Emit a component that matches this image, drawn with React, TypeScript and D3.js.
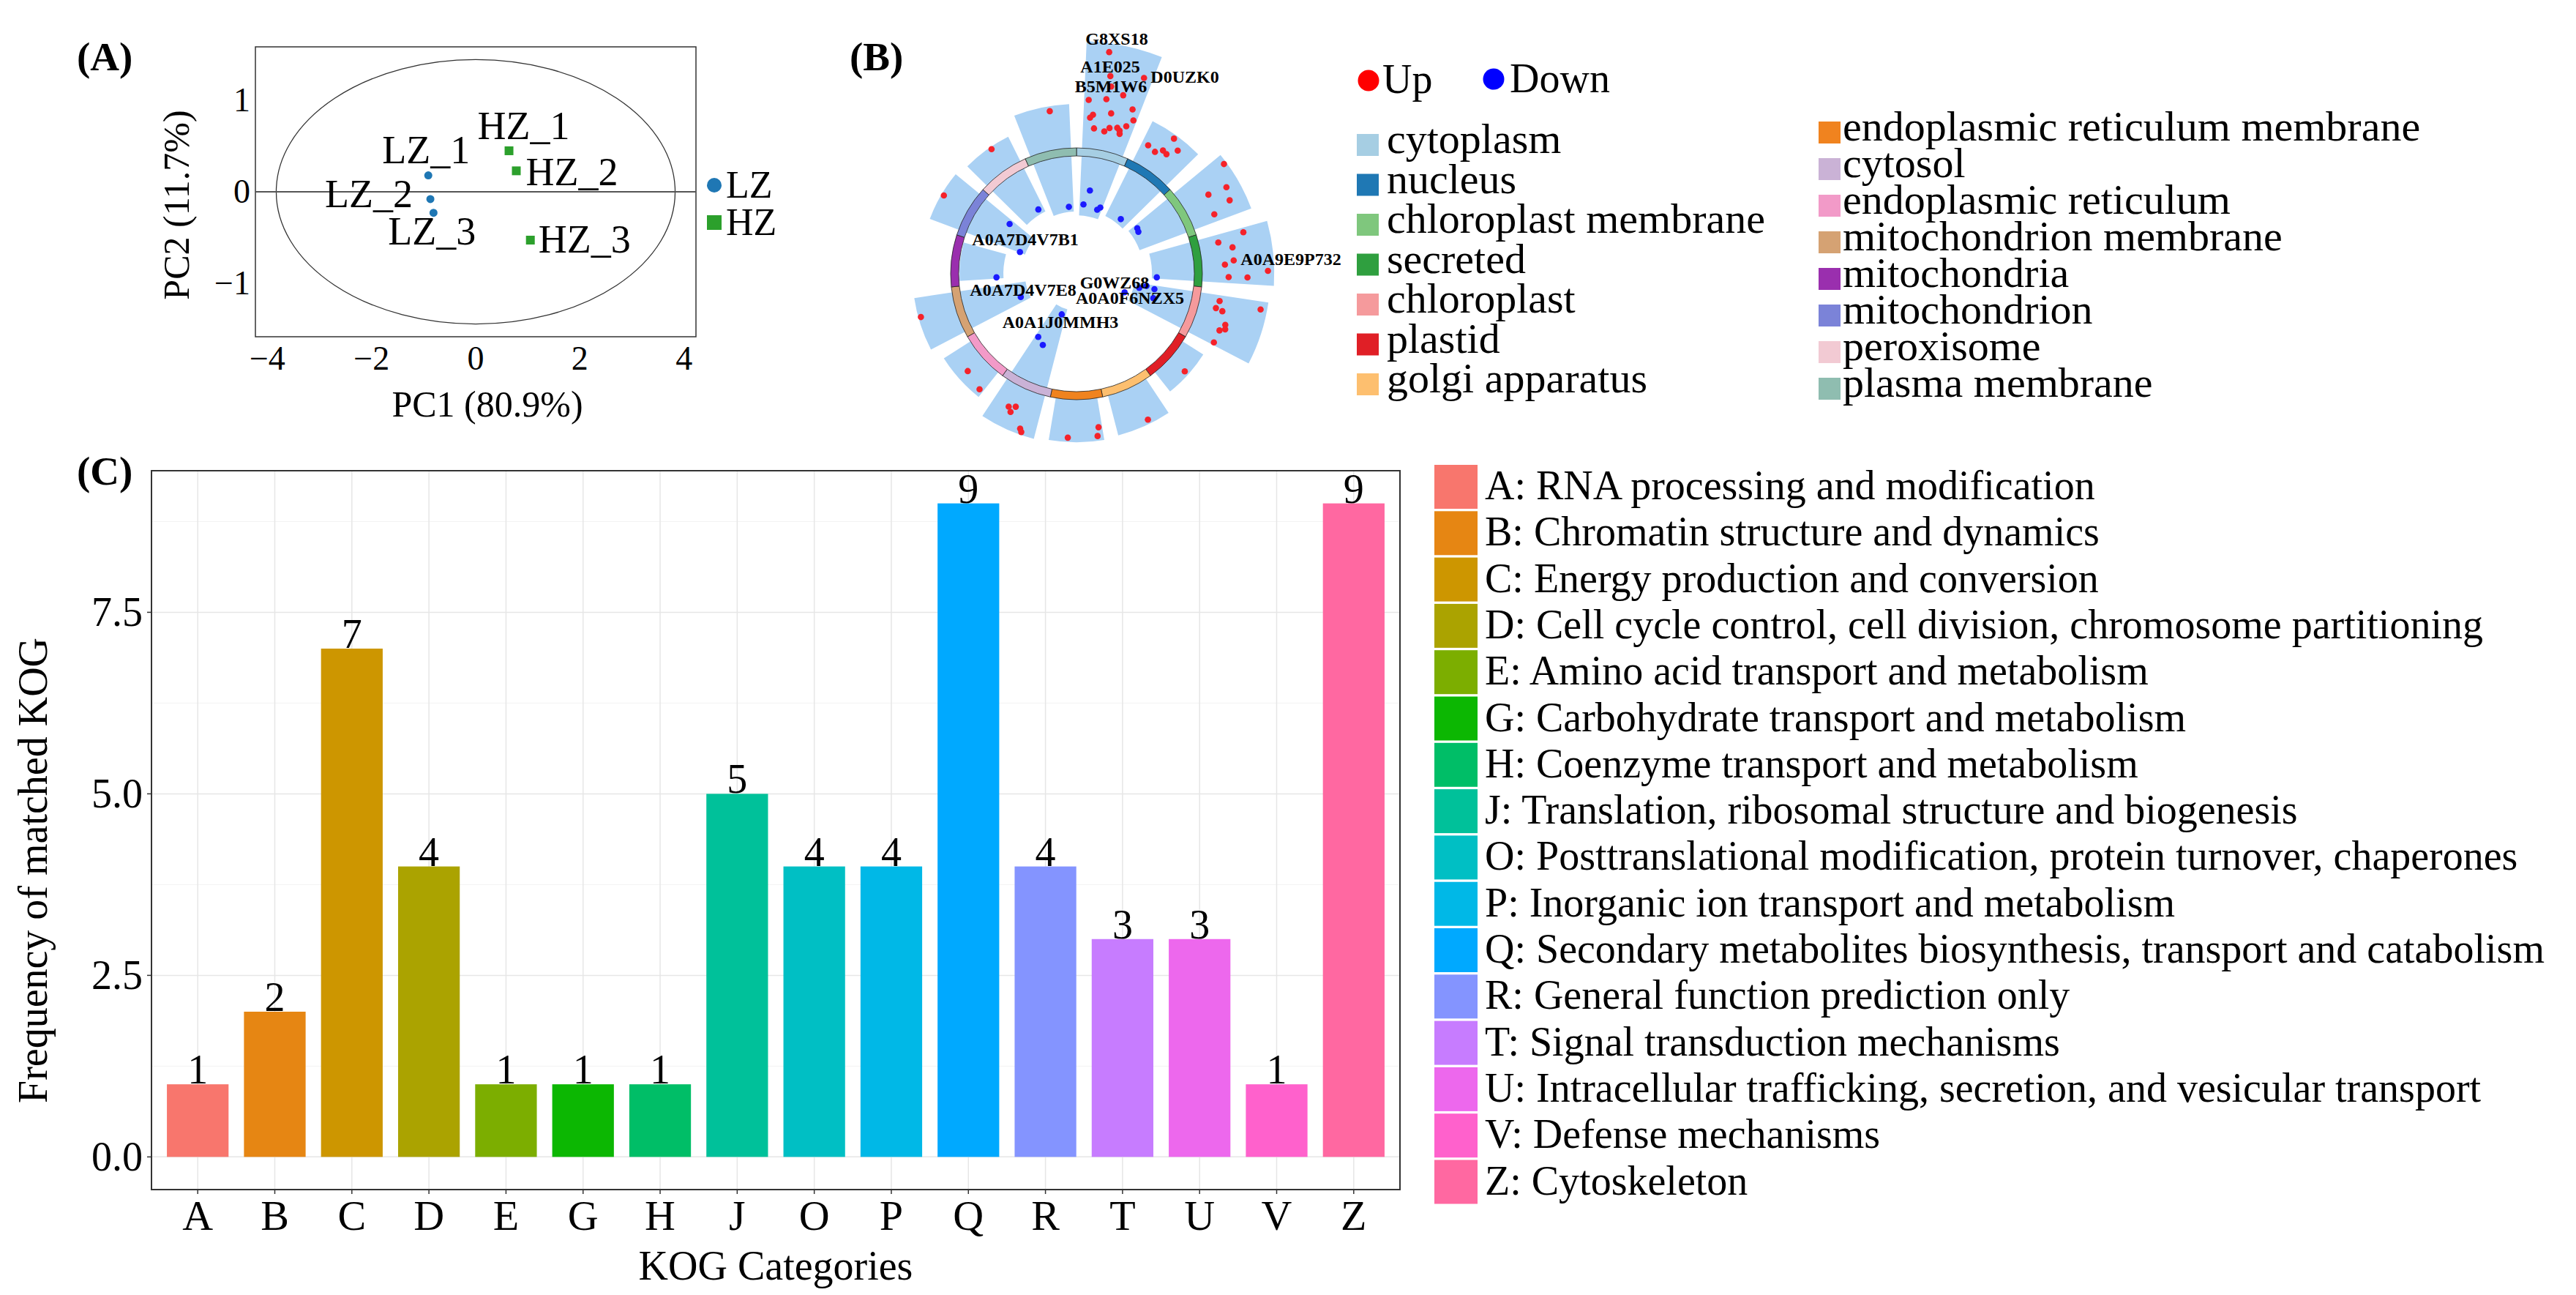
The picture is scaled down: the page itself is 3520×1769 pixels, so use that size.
import * as React from 'react';
import * as d3 from 'd3';

const W = 3520;
const H = 1769;
const FONT = '"Liberation Serif", "Times New Roman", serif';

/* ---------- (A) PCA ---------- */
const sampleNames = ['LZ_1', 'LZ_2', 'LZ_3', 'HZ_1', 'HZ_2', 'HZ_3'];
const sampleGroup = ['LZ', 'LZ', 'LZ', 'HZ', 'HZ', 'HZ'];
const pc1 = [-0.91, -0.87, -0.81, 0.64, 0.78, 1.05];
const pc2 = [0.18, -0.08, -0.23, 0.45, 0.23, -0.53];
const pcaGroups = ['LZ', 'HZ'];
const pcaGroupColors = ['#1f77b4', '#2ca02c'];
const pc1Ticks = [-4, -2, 0, 2, 4];
const pc2Ticks = [-1, 0, 1];
const ellipseRadii = [3.83, 1.45];

/* ---------- (B) subcellular location circle ---------- */
const locations = [
    'cytoplasm', 'nucleus', 'chloroplast membrane', 'secreted', 'chloroplast', 'plastid', 'golgi apparatus',
    'endoplasmic reticulum membrane', 'cytosol', 'endoplasmic reticulum', 'mitochondrion membrane',
    'mitochondria', 'mitochondrion', 'peroxisome', 'plasma membrane',
];
const locationColors = [
    '#a6cee3', '#1f78b4', '#7fc77d', '#2f9f3f', '#f59a9c', '#e01f26', '#fdbf6f',
    '#f0831f', '#cab2d6', '#f29ac8', '#d5a273', '#9a2fae', '#7b83d8', '#f2cad3', '#8fbdb0',
];
// wedge extent per location (log2 fold-change units, 0 = ring)
const wedgeInner = [-2.9, -2.64, -2.52, -2.17, -2.9, -0.2, -0.2, -0.2, -3.84, -0.2, -3.2, -2.27, -3.05, -2.42, -2.74];
const wedgeOuter = [4.6, 1.92, 2.61, 3.09, 2.93, 1.05, 1.76, 1.83, 1.92, 1.35, 1.64, -0.38, 1.32, 1.17, 1.89];
// [position inside the sector, log2FC]
const upDots = [
    [[0.31, 4.22], [0.38, 3.21], [0.87, 3.49], [0.42, 2.77], [0.64, 2.52], [0.08, 2.08], [0.38, 2.2], [0.86, 2.05],
     [0.51, 1.64], [0.18, 1.46], [0.13, 1.32], [0.94, 1.62], [0.23, 0.88], [0.54, 1.01], [0.45, 0.82], [0.69, 1.1],
     [0.75, 1.01], [0.77, 0.88], [0.85, 1.28]],
    [[0.14, 0.91], [0.33, 0.82], [0.45, 1.06], [0.55, 1.02], [0.49, 1.75], [0.68, 1.44]],
    [[0.15, 2.49], [0.5, 2.03], [0.45, 1.2], [0.73, 1.89], [0.85, 1.04]],
    [[0.08, 1.98], [0.16, 0.83], [0.31, 1.39], [0.63, 0.98], [0.56, 1.37], [0.88, 1.13], [0.88, 1.94], [0.77, 2.82]],
    [[0.12, 0.85], [0.28, 0.76], [0.31, 1.06], [0.13, 2.65], [0.55, 1.35], [0.69, 1.2], [0.63, 1.41], [0.95, 1.19]],
    [[0.5, 0.85]],
    [[0.39, 1.57]],
    [[0.07, 1.25], [0.11, 1.62], [0.66, 1.64]],
    [[0.66, 1.0], [0.53, 0.87], [0.58, 1.17], [0.29, 1.67], [0.25, 1.79]],
    [[0.51, 0.86], [0.08, 1.07]],
    [[0.63, 1.53]],
    [],
    [[0.53, 1.21]],
    [[0.59, 1.07]],
    [[0.64, 1.67]],
];
const downDots = [
    [[0.35, -1.79], [0.17, -2.42], [0.81, -2.52], [0.91, -2.39]],
    [[0.66, -2.39]],
    [[0.14, -2.15], [0.28, -2.2]],
    [[0.95, -1.96]],
    [[0.22, -2.65], [0.07, -2.36], [0.14, -2.0], [0.48, -1.95], [0.66, -3.2]],
    [],
    [],
    [],
    [[0.88, -2.24], [0.57, -2.03], [0.29, -3.56]],
    [],
    [[0.26, -2.82]],
    [[0.05, -1.97]],
    [[0.85, -1.83], [0.03, -2.81]],
    [[0.78, -2.2]],
    [[0.79, -2.52]],
];
const proteinLabels = [
    'G8XS18', 'A1E025', 'B5M1W6', 'D0UZK0', 'A0A7D4V7B1', 'A0A9E9P732',
    'G0WZ68', 'A0A7D4V7E8', 'A0A0F6NZX5', 'A0A1J0MMH3',
];

/* ---------- (C) KOG ---------- */
const kogCodes = ['A', 'B', 'C', 'D', 'E', 'G', 'H', 'J', 'O', 'P', 'Q', 'R', 'T', 'U', 'V', 'Z'];
const kogCounts = [1, 2, 7, 4, 1, 1, 1, 5, 4, 4, 9, 4, 3, 3, 1, 9];
const kogNames = [
    'A: RNA processing and modification',
    'B: Chromatin structure and dynamics',
    'C: Energy production and conversion',
    'D: Cell cycle control, cell division, chromosome partitioning',
    'E: Amino acid transport and metabolism',
    'G: Carbohydrate transport and metabolism',
    'H: Coenzyme transport and metabolism',
    'J: Translation, ribosomal structure and biogenesis',
    'O: Posttranslational modification, protein turnover, chaperones',
    'P: Inorganic ion transport and metabolism',
    'Q: Secondary metabolites biosynthesis, transport and catabolism',
    'R: General function prediction only',
    'T: Signal transduction mechanisms',
    'U: Intracellular trafficking, secretion, and vesicular transport',
    'V: Defense mechanisms',
    'Z: Cytoskeleton',
];
const kogColors = [
    '#F8766D', '#E68613', '#CD9600', '#ABA300', '#7CAE00', '#0CB702', '#00BE67', '#00C19A',
    '#00BFC4', '#00B8E7', '#00A9FF', '#8494FF', '#C77CFF', '#ED68ED', '#FF61CC', '#FF68A1',
];
const kogMajorTicks = [0, 2.5, 5, 7.5];
const kogMinorTicks = [1.25, 3.75, 6.25, 8.75];

/* layout */
const A = { left: 349, right: 951, top: 64, bottom: 460 };
const B = { cx: 1471, cy: 374, ringIn: 161, ringOut: 172 };
const C = { left: 207, right: 1913, top: 643, bottom: 1625 };

// label placement (px from point / circle centre)
const pcaLabelOffset = [[-3, -17], [-84, 11], [-2, 43], [20, -16], [76, 20], [74, 17]];
const proteinLabelOffset = [
    [55, -313], [46, -275], [47, -248], [148, -261], [-70, -39],
    [293, -12], [52, 20], [-73, 30], [73, 41], [-22, 74],
];

const PanelA = () => {
    const x = d3.scaleLinear().domain([-4.23, 4.23]).range([A.left, A.right]);
    const y = d3.scaleLinear().domain([-1.59, 1.59]).range([A.bottom, A.top]);
    const color = d3.scaleOrdinal<string, string>().domain(pcaGroups).range(pcaGroupColors);
    const fmt = (v: number) => (v < 0 ? '\u2212' + Math.abs(v) : String(v));
    return (
        <g fontFamily={FONT}>
            <text x={105} y={96} fontSize={55} fontWeight="bold">(A)</text>
            <rect x={A.left} y={A.top} width={A.right - A.left} height={A.bottom - A.top} fill="white" stroke="#333" strokeWidth={1.5} />
            <ellipse cx={x(0)} cy={y(0)} rx={x(ellipseRadii[0]) - x(0)} ry={y(0) - y(ellipseRadii[1])}
                fill="none" stroke="#333" strokeWidth={1.3} />
            <line x1={A.left} x2={A.right} y1={y(0)} y2={y(0)} stroke="#555" strokeWidth={2} />
            {pc1Ticks.map(t => (
                <text key={t} x={x(t)} y={505} fontSize={46} textAnchor="middle">{fmt(t)}</text>
            ))}
            {pc2Ticks.map(t => (
                <text key={t} x={342} y={y(t) + 15} fontSize={46} textAnchor="end">{fmt(t)}</text>
            ))}
            <text x={666} y={569} fontSize={50} textAnchor="middle">PC1 (80.9%)</text>
            <text transform={`translate(258,280) rotate(-90)`} fontSize={50} textAnchor="middle">PC2 (11.7%)</text>
            {sampleNames.map((s, i) => {
                const px = x(pc1[i]);
                const py = y(pc2[i]);
                const c = color(sampleGroup[i]);
                return (
                    <g key={s}>
                        {sampleGroup[i] === 'LZ'
                            ? <circle cx={px} cy={py} r={5.5} fill={c} />
                            : <rect x={px - 6} y={py - 6} width={12} height={12} fill={c} />}
                        <text x={px + pcaLabelOffset[i][0]} y={py + pcaLabelOffset[i][1]} fontSize={54} textAnchor="middle">{s}</text>
                    </g>
                );
            })}
            {pcaGroups.map((g, i) => (
                <g key={g} transform={`translate(976,${253 + i * 51})`}>
                    {i === 0
                        ? <circle r={10} fill={pcaGroupColors[i]} />
                        : <rect x={-10} y={-10} width={20} height={20} fill={pcaGroupColors[i]} />}
                    <text x={16} y={17} fontSize={52}>{g}</text>
                </g>
            ))}
        </g>
    );
};

const PanelB = () => {
    const n = locations.length;
    const span = 360 / n;
    const pad = 2.5;
    const rad = Math.PI / 180;
    const r = d3.scaleLinear().domain([-4, 4.5]).range([45, 315]);
    const arc = d3.arc();
    const angleOf = (i: number, pos: number) => (i * span + pad + pos * (span - 2 * pad)) * rad;
    const polar = (a: number, rr: number) => [rr * Math.sin(a), -rr * Math.cos(a)];
    const col1 = locations.slice(0, 7);
    const col2 = locations.slice(7);
    return (
        <g fontFamily={FONT}>
            <text x={1161} y={96} fontSize={55} fontWeight="bold">(B)</text>
            <g transform={`translate(${B.cx},${B.cy})`}>
                {locations.map((loc, i) => (
                    <path key={'w' + loc}
                        d={arc({
                            innerRadius: r(wedgeInner[i]), outerRadius: r(wedgeOuter[i]),
                            startAngle: angleOf(i, 0), endAngle: angleOf(i, 1),
                        } as any) as string}
                        fill="#aad1f4" />
                ))}
                {locations.map((loc, i) => (
                    <path key={'s' + loc}
                        d={arc({
                            innerRadius: B.ringIn, outerRadius: B.ringOut,
                            startAngle: i * span * rad, endAngle: (i + 1) * span * rad,
                        } as any) as string}
                        fill={locationColors[i]} stroke="#222" strokeWidth={0.8} />
                ))}
                {upDots.map((dots, i) => dots.map((d, j) => {
                    const [px, py] = polar(angleOf(i, d[0]), r(d[1]));
                    return <circle key={`u${i}-${j}`} cx={px} cy={py} r={4.3} fill="#f5222a" />;
                }))}
                {downDots.map((dots, i) => dots.map((d, j) => {
                    const [px, py] = polar(angleOf(i, d[0]), r(d[1]));
                    return <circle key={`d${i}-${j}`} cx={px} cy={py} r={4.3} fill="#1a1aff" />;
                }))}
                {proteinLabels.map((p, i) => (
                    <text key={p} x={proteinLabelOffset[i][0]} y={proteinLabelOffset[i][1]}
                        fontSize={24} fontWeight="bold" textAnchor="middle">{p}</text>
                ))}
            </g>
            <circle cx={1870} cy={110} r={14.5} fill="#ff0000" />
            <text x={1889} y={127} fontSize={56}>Up</text>
            <circle cx={2041} cy={108} r={14.5} fill="#0000ff" />
            <text x={2063} y={126} fontSize={56}>Down</text>
            {col1.map((loc, i) => (
                <g key={loc} transform={`translate(1854,${198 + i * 54.5})`}>
                    <rect x={0} y={-15} width={30} height={30} fill={locationColors[i]} />
                    <text x={41} y={11} fontSize={58}>{loc}</text>
                </g>
            ))}
            {col2.map((loc, i) => (
                <g key={loc} transform={`translate(2485,${181 + i * 50})`}>
                    <rect x={0} y={-15} width={30} height={30} fill={locationColors[i + 7]} />
                    <text x={33} y={11} fontSize={58}>{loc}</text>
                </g>
            ))}
        </g>
    );
};

const PanelC = () => {
    const x = d3.scaleBand<string>().domain(kogCodes).range([C.left, C.right]).paddingInner(0.2).paddingOuter(0.2);
    const y = d3.scaleLinear().domain([-0.45, 9.45]).range([C.bottom, C.top]);
    const fmt = d3.format('.1f');
    return (
        <g fontFamily={FONT}>
            <text x={105} y={662} fontSize={55} fontWeight="bold">(C)</text>
            <rect x={C.left} y={C.top} width={C.right - C.left} height={C.bottom - C.top} fill="white" />
            {kogMinorTicks.map(t => (
                <line key={'m' + t} x1={C.left} x2={C.right} y1={y(t)} y2={y(t)} stroke="#f3f3f3" strokeWidth={1} />
            ))}
            {kogMajorTicks.map(t => (
                <line key={'M' + t} x1={C.left} x2={C.right} y1={y(t)} y2={y(t)} stroke="#e6e6e6" strokeWidth={1.5} />
            ))}
            {kogCodes.map(k => (
                <line key={'v' + k} x1={x(k)! + x.bandwidth() / 2} x2={x(k)! + x.bandwidth() / 2}
                    y1={C.top} y2={C.bottom} stroke="#e6e6e6" strokeWidth={1.5} />
            ))}
            {kogCodes.map((k, i) => (
                <rect key={'b' + k} x={x(k)} y={y(kogCounts[i])} width={x.bandwidth()}
                    height={y(0) - y(kogCounts[i])} fill={kogColors[i]} />
            ))}
            {kogCodes.map((k, i) => (
                <text key={'l' + k} x={x(k)! + x.bandwidth() / 2} y={y(kogCounts[i]) - 1}
                    fontSize={56} textAnchor="middle">{kogCounts[i]}</text>
            ))}
            <rect x={C.left} y={C.top} width={C.right - C.left} height={C.bottom - C.top}
                fill="none" stroke="#333" strokeWidth={2} />
            {kogMajorTicks.map(t => (
                <g key={'t' + t}>
                    <line x1={C.left - 6} x2={C.left} y1={y(t)} y2={y(t)} stroke="#333" strokeWidth={1.5} />
                    <text x={195} y={y(t) + 19} fontSize={56} textAnchor="end">{fmt(t)}</text>
                </g>
            ))}
            {kogCodes.map(k => (
                <g key={'x' + k}>
                    <line x1={x(k)! + x.bandwidth() / 2} x2={x(k)! + x.bandwidth() / 2}
                        y1={C.bottom} y2={C.bottom + 6} stroke="#333" strokeWidth={1.5} />
                    <text x={x(k)! + x.bandwidth() / 2} y={1680} fontSize={58} textAnchor="middle">{k}</text>
                </g>
            ))}
            <text x={(C.left + C.right) / 2} y={1748} fontSize={56} textAnchor="middle">KOG Categories</text>
            <text transform="translate(64,1189) rotate(-90)" fontSize={56} textAnchor="middle">Frequency of matched KOG</text>
            {kogNames.map((name, i) => (
                <g key={name} transform={`translate(1960,${635 + i * 63.3})`}>
                    <rect x={0} y={0} width={59} height={60} fill={kogColors[i]} />
                    <text x={69} y={47} fontSize={56}>{name}</text>
                </g>
            ))}
        </g>
    );
};

export default function App() {
    return (
        <svg width={W} height={H} viewBox={`0 0 ${W} ${H}`}
            style={{ position: 'absolute', left: 0, top: 0, background: 'white' }}>
            <rect width={W} height={H} fill="white" />
            <PanelA />
            <PanelB />
            <PanelC />
        </svg>
    );
}
